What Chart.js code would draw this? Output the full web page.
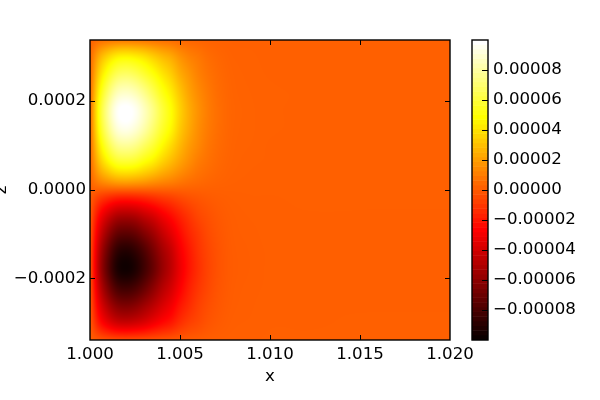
<!DOCTYPE html>
<html>
<head>
<meta charset="utf-8">
<script src="https://cdn.jsdelivr.net/npm/chart.js@4"></script>
<style>
    html, body { margin: 0; padding: 0; background: #fff; overflow: hidden; }
    canvas { position: absolute; top: 0; }
    #field-chart { left: 0; }
    #bar-chart { left: 460px; }
</style>
</head>
<body>
<canvas id="field-chart" width="600" height="400"></canvas>
<canvas id="bar-chart" width="140" height="400"></canvas>
<script>
// ───────────────────────── DATA ─────────────────────────
const xNodes = [1.0, 1.0005, 1.001, 1.0015, 1.002, 1.0025, 1.003, 1.0035, 1.004, 1.0045, 1.005,
                1.0055, 1.006, 1.0065, 1.007, 1.0075, 1.008, 1.009, 1.01, 1.012, 1.016, 1.02];
const zNodes = [0.00034, 0.0003, 0.00026, 0.00022, 0.00018, 0.00014, 0.0001, 0.00006, 0.00002,
                -0.00002, -0.00006, -0.0001, -0.00014, -0.00018, -0.00022, -0.00026, -0.0003, -0.00034];
// one row per z node, one column per x node, in units of 1e-5
const fieldValues = [
    [0.02, 0.25, 0.39, 0.48, 0.50, 0.48, 0.43, 0.37, 0.30, 0.24, 0.17, 0.12, 0.08, 0.05, 0.03, 0.02, 0.01, 0.01, 0, 0, 0, 0],
    [0.14, 2.25, 3.50, 4.30, 4.50, 4.30, 3.90, 3.30, 2.70, 2.20, 1.50, 1.00, 0.70, 0.40, 0.22, 0.11, 0.05, 0.03, 0.01, 0.01, 0, 0],
    [0.20, 3.40, 5.30, 6.50, 6.80, 6.50, 5.80, 5.00, 4.10, 3.30, 2.30, 1.60, 1.00, 0.60, 0.34, 0.17, 0.08, 0.04, 0.02, 0.01, 0.01, 0.01],
    [0.26, 4.35, 6.80, 8.35, 8.70, 8.35, 7.50, 6.40, 5.20, 4.20, 3.00, 2.00, 1.30, 0.80, 0.43, 0.22, 0.10, 0.05, 0.03, 0.02, 0.01, 0.01],
    [0.30, 5.00, 7.80, 9.60, 10.0, 9.60, 8.60, 7.40, 6.00, 4.80, 3.40, 2.30, 1.50, 0.90, 0.50, 0.25, 0.12, 0.06, 0.03, 0.02, 0.01, 0.01],
    [0.28, 4.75, 7.40, 9.10, 9.50, 9.10, 8.20, 7.00, 5.70, 4.60, 3.20, 2.20, 1.40, 0.85, 0.48, 0.24, 0.11, 0.06, 0.03, 0.02, 0.01, 0.01],
    [0.23, 3.90, 6.10, 7.50, 7.80, 7.50, 6.70, 5.80, 4.70, 3.70, 2.65, 1.80, 1.20, 0.70, 0.39, 0.20, 0.09, 0.05, 0.02, 0.02, 0.01, 0.01],
    [0.17, 2.75, 4.30, 5.30, 5.50, 5.30, 4.70, 4.10, 3.30, 2.60, 1.90, 1.30, 0.80, 0.50, 0.28, 0.14, 0.07, 0.03, 0.02, 0.01, 0.01, 0.01],
    [0.07, 1.10, 1.70, 2.10, 2.20, 2.10, 1.90, 1.60, 1.30, 1.05, 0.75, 0.50, 0.33, 0.20, 0.11, 0.06, 0.03, 0.01, 0.01, 0, 0, 0],
    [-0.07, -1.10, -1.70, -2.10, -2.20, -2.10, -1.90, -1.60, -1.30, -1.05, -0.75, -0.50, -0.33, -0.20, -0.11, -0.06, -0.03, -0.01, -0.01, 0, 0, 0],
    [-0.17, -2.75, -4.30, -5.30, -5.50, -5.30, -4.70, -4.10, -3.30, -2.60, -1.90, -1.30, -0.80, -0.50, -0.28, -0.14, -0.07, -0.03, -0.02, -0.01, -0.01, -0.01],
    [-0.23, -3.90, -6.10, -7.50, -7.80, -7.50, -6.70, -5.80, -4.70, -3.70, -2.65, -1.80, -1.20, -0.70, -0.39, -0.20, -0.09, -0.05, -0.02, -0.02, -0.01, -0.01],
    [-0.28, -4.75, -7.40, -9.10, -9.50, -9.10, -8.20, -7.00, -5.70, -4.60, -3.20, -2.20, -1.40, -0.85, -0.48, -0.24, -0.11, -0.06, -0.03, -0.02, -0.01, -0.01],
    [-0.30, -5.00, -7.80, -9.60, -10.0, -9.60, -8.60, -7.40, -6.00, -4.80, -3.40, -2.30, -1.50, -0.90, -0.50, -0.25, -0.12, -0.06, -0.03, -0.02, -0.01, -0.01],
    [-0.26, -4.35, -6.80, -8.35, -8.70, -8.35, -7.50, -6.40, -5.20, -4.20, -3.00, -2.00, -1.30, -0.80, -0.43, -0.22, -0.10, -0.05, -0.03, -0.02, -0.01, -0.01],
    [-0.20, -3.40, -5.30, -6.50, -6.80, -6.50, -5.80, -5.00, -4.10, -3.30, -2.30, -1.60, -1.00, -0.60, -0.34, -0.17, -0.08, -0.04, -0.02, -0.01, -0.01, -0.01],
    [-0.14, -2.25, -3.50, -4.30, -4.50, -4.30, -3.90, -3.30, -2.70, -2.20, -1.50, -1.00, -0.70, -0.40, -0.22, -0.11, -0.05, -0.03, -0.01, -0.01, 0, 0],
    [-0.02, -0.25, -0.39, -0.48, -0.50, -0.48, -0.43, -0.37, -0.30, -0.24, -0.17, -0.12, -0.08, -0.05, -0.03, -0.02, -0.01, -0.01, 0, 0, 0, 0],
];
const xTicks   = [1.0, 1.005, 1.01, 1.015, 1.02];
const zTicks   = [-0.0002, 0, 0.0002];
const barTicks = [-0.00008, -0.00006, -0.00004, -0.00002, 0, 0.00002, 0.00004, 0.00006, 0.00008];

// ───────────────────────── COLOUR MAP (hot; bar has 64 bands, field is smooth) ─────────────────────────
const LEVELS = 64;
const vMin = -10, vMax = 10;
const FIELD_SHIFT = 0.008; // field background sits one band above the middle of the map

function hotColor(t) {
    const clamp = v => Math.max(0, Math.min(1, v));
    return [
        Math.round(255 * clamp(0.0416 + t * (1 - 0.0416) / 0.365)),
        Math.round(255 * clamp((t - 0.365) / 0.381)),
        Math.round(255 * clamp((t - 0.746) / 0.254)),
    ];
}
const lut = Array.from({ length: LEVELS }, (_, i) => hotColor(i / (LEVELS - 1)));

// ───────────────────────── SMOOTH LOOKUP BETWEEN TABLE NODES ─────────────────────────
function hermite(xs, ys, x) {
    const asc = xs[1] > xs[0];
    let i = 0;
    while (i < xs.length - 2 && (asc ? x > xs[i + 1] : x < xs[i + 1])) i++;
    const h = xs[i + 1] - xs[i];
    const s = Math.max(0, Math.min(1, (x - xs[i]) / h));
    const slope = k => {
        const a = Math.max(0, k - 1), b = Math.min(xs.length - 1, k + 1);
        return (ys[b] - ys[a]) / (xs[b] - xs[a]);
    };
    const s2 = s * s, s3 = s2 * s;
    return (2*s3 - 3*s2 + 1) * ys[i] + (s3 - 2*s2 + s) * h * slope(i)
         + (-2*s3 + 3*s2) * ys[i + 1] + (s3 - s2) * h * slope(i + 1);
}

// ───────────────────────── PLUGINS ─────────────────────────
const fieldPlugin = {
    id: "field",
    beforeDatasetsDraw(chart) {
        const { ctx, chartArea: a, scales: { x, y } } = chart;
        const w = Math.round(a.right - a.left), h = Math.round(a.bottom - a.top);
        const off = document.createElement("canvas");
        off.width = w; off.height = h;
        const offCtx = off.getContext("2d");
        const img = offCtx.createImageData(w, h);
        for (let px = 0; px < w; px++) {
            const xv = x.getValueForPixel(a.left + px + 0.5);
            const column = fieldValues.map(row => hermite(xNodes, row, xv));
            for (let py = 0; py < h; py++) {
                const zv = y.getValueForPixel(a.top + py + 0.5);
                const v = hermite(zNodes, column, zv);
                const c = hotColor((v - vMin) / (vMax - vMin) + FIELD_SHIFT);
                const k = (py * w + px) * 4;
                img.data[k] = c[0]; img.data[k + 1] = c[1]; img.data[k + 2] = c[2]; img.data[k + 3] = 255;
            }
        }
        offCtx.putImageData(img, 0, 0);
        ctx.drawImage(off, a.left, a.top);
    },
    afterDatasetsDraw(chart) {
        const { ctx, chartArea: a, scales: { x, y } } = chart;
        ctx.save();
        ctx.strokeStyle = "#000";
        ctx.lineWidth = 1;
        ctx.beginPath();
        xTicks.slice(1, -1).forEach(t => {
            const p = Math.round(x.getPixelForValue(t)) + 0.5;
            ctx.moveTo(p, a.top);    ctx.lineTo(p, a.top + 5);
            ctx.moveTo(p, a.bottom); ctx.lineTo(p, a.bottom - 5);
        });
        zTicks.forEach(t => {
            const p = Math.round(y.getPixelForValue(t)) + 0.5;
            ctx.moveTo(a.left, p);  ctx.lineTo(a.left + 5, p);
            ctx.moveTo(a.right, p); ctx.lineTo(a.right - 5, p);
        });
        ctx.stroke();
        ctx.lineWidth = 1.4;
        ctx.strokeRect(a.left, a.top, a.right - a.left, a.bottom - a.top);
        ctx.restore();
    }
};

const barPlugin = {
    id: "colorBar",
    beforeDatasetsDraw(chart) {
        const { ctx, chartArea: a, scales: { y } } = chart;
        lut.forEach((c, i) => {
            const lo = (vMin + (vMax - vMin) * i / LEVELS) * 1e-5;
            const hi = (vMin + (vMax - vMin) * (i + 1) / LEVELS) * 1e-5;
            const top = y.getPixelForValue(hi), bottom = y.getPixelForValue(lo);
            ctx.fillStyle = `rgb(${c[0]},${c[1]},${c[2]})`;
            ctx.fillRect(a.left, top, a.right - a.left, bottom - top + 0.5);
        });
    },
    afterDatasetsDraw(chart) {
        const { ctx, chartArea: a, scales: { y } } = chart;
        ctx.save();
        ctx.strokeStyle = "#000";
        ctx.lineWidth = 1;
        ctx.beginPath();
        barTicks.forEach(t => {
            const p = Math.round(y.getPixelForValue(t)) + 0.5;
            ctx.moveTo(a.right, p); ctx.lineTo(a.right - 6, p);
        });
        ctx.stroke();
        ctx.lineWidth = 1.4;
        ctx.strokeRect(a.left, a.top, a.right - a.left, a.bottom - a.top);
        ctx.restore();
    }
};

// ───────────────────────── CHARTS ─────────────────────────
const font = { family: "DejaVu Sans", size: 16.67 };
const minus = s => s.replace("-", "\u2212");

new Chart(document.getElementById("field-chart").getContext("2d"), {
    type: "scatter",
    data: { datasets: [] },
    options: {
        responsive: false,
        animation:  false,
        layout: { padding: { top: 40, right: 150, left: 0, bottom: 0 } },
        plugins: { legend: { display: false }, tooltip: { enabled: false } },
        scales: {
            x: {
                type: "linear", min: 1.0, max: 1.02,
                afterFit: s => { s.height = 60; },
                afterBuildTicks: s => { s.ticks = xTicks.map(value => ({ value })); },
                grid: { display: false, drawTicks: false }, border: { display: false },
                ticks: { color: "#000", font, padding: 5, maxRotation: 0, autoSkip: false,
                         callback: v => v.toFixed(3) },
                title: { display: true, text: "x", color: "#000", font, padding: { top: 0, bottom: 13 } }
            },
            y: {
                type: "linear", min: -0.0003391, max: 0.0003377,
                afterFit: s => { s.width = 90; },
                afterBuildTicks: s => { s.ticks = zTicks.map(value => ({ value })); },
                grid: { display: false, drawTicks: false }, border: { display: false },
                ticks: { color: "#000", font, padding: 4, autoSkip: false,
                         callback: v => minus(v.toFixed(4)) },
                title: { display: true, text: "z", color: "#000", font, padding: { top: -8.4, bottom: 0 } }
            }
        }
    },
    plugins: [fieldPlugin]
});

new Chart(document.getElementById("bar-chart").getContext("2d"), {
    type: "scatter",
    data: { datasets: [] },
    options: {
        responsive: false,
        animation:  false,
        layout: { padding: { top: 40, left: 12, bottom: 60, right: 0 } },
        plugins: { legend: { display: false }, tooltip: { enabled: false } },
        scales: {
            x: { display: false },
            y: {
                type: "linear", position: "right", min: -0.00010027, max: 0.00009973,
                afterFit: s => { s.width = 112; },
                afterBuildTicks: s => { s.ticks = barTicks.map(value => ({ value })); },
                grid: { display: false, drawTicks: false }, border: { display: false },
                ticks: { color: "#000", font, padding: 5, autoSkip: false,
                         callback: v => minus(v.toFixed(5)) }
            }
        }
    },
    plugins: [barPlugin]
});
</script>
</body>
</html>
